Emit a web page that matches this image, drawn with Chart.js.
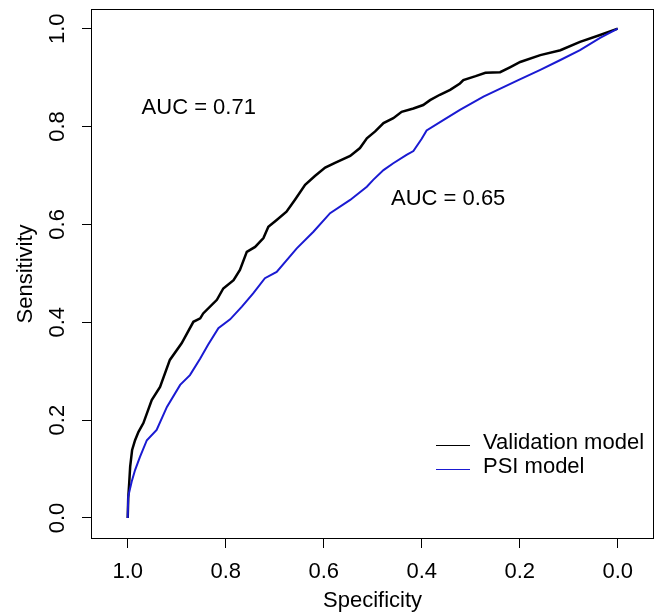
<!DOCTYPE html>
<html>
<head>
<meta charset="utf-8">
<script src="https://cdn.jsdelivr.net/npm/chart.js@4.4.1/dist/chart.umd.min.js"></script>
<style>
  body { margin: 0; background: #fff; }
</style>
</head>
<body>
<canvas id="rocChart" width="661" height="616"></canvas>
<script>
// ROC curves (specificity, sensitivity)
let specValidation = [1.0, 0.999, 0.997, 0.995, 0.991, 0.985, 0.978, 0.968, 0.951, 0.934, 0.914, 0.890, 0.866, 0.852, 0.846, 0.818, 0.805, 0.784, 0.771, 0.757, 0.740, 0.723, 0.713, 0.696, 0.676, 0.659, 0.638, 0.618, 0.597, 0.577, 0.546, 0.526, 0.512, 0.495, 0.478, 0.458, 0.441, 0.417, 0.397, 0.383, 0.363, 0.342, 0.322, 0.315, 0.290, 0.270, 0.240, 0.220, 0.199, 0.158, 0.117, 0.077, 0.036, 0.0];
let sensValidation = [0.0, 0.040, 0.071, 0.105, 0.139, 0.159, 0.176, 0.194, 0.241, 0.268, 0.323, 0.357, 0.401, 0.408, 0.418, 0.446, 0.469, 0.486, 0.507, 0.544, 0.554, 0.572, 0.595, 0.609, 0.626, 0.650, 0.681, 0.699, 0.716, 0.726, 0.740, 0.756, 0.776, 0.790, 0.807, 0.817, 0.830, 0.837, 0.844, 0.854, 0.865, 0.875, 0.888, 0.895, 0.903, 0.910, 0.911, 0.921, 0.932, 0.946, 0.956, 0.973, 0.987, 1.0];

let specPsi = [1.0, 0.999, 0.992, 0.985, 0.975, 0.961, 0.941, 0.920, 0.893, 0.873, 0.852, 0.836, 0.815, 0.791, 0.767, 0.744, 0.720, 0.696, 0.655, 0.621, 0.587, 0.546, 0.512, 0.499, 0.478, 0.458, 0.431, 0.417, 0.400, 0.390, 0.356, 0.322, 0.274, 0.203, 0.158, 0.117, 0.077, 0.036, 0.0];
let sensPsi = [0.0, 0.044, 0.074, 0.098, 0.125, 0.159, 0.180, 0.227, 0.272, 0.292, 0.326, 0.354, 0.388, 0.406, 0.432, 0.459, 0.490, 0.503, 0.551, 0.585, 0.623, 0.650, 0.677, 0.691, 0.711, 0.725, 0.742, 0.750, 0.775, 0.792, 0.813, 0.834, 0.861, 0.895, 0.916, 0.936, 0.956, 0.981, 1.0];

let tickVals = [0.0, 0.2, 0.4, 0.6, 0.8, 1.0];
let seriesLabels = ["Validation model", "PSI model"];
let seriesColors = ["#000000", "#1a1ad2"];
let aucLabels = ["AUC = 0.71", "AUC = 0.65"];
let aucSpec = [0.855, 0.346];
let aucSens = [0.839, 0.653];

const fontFamily = '"Liberation Sans", Arial, Helvetica, sans-serif';
Chart.defaults.font.family = fontFamily;
Chart.defaults.color = '#000';

function toPoints(xs, ys) {
    return xs.map(function (v, i) {
        return {x: v, y: ys[i]};
    });
}

//Box round the plot, AUC notes and the legend, like base R graphics
const rocExtras = {
    id: 'rocExtras',
    afterDraw(chart) {
        const {ctx, chartArea: a, scales: {x, y}} = chart;
        ctx.save();
        ctx.strokeStyle = '#000';
        ctx.lineWidth = 1;
        ctx.strokeRect(a.left - 0.5, a.top - 0.5, a.right - a.left + 1, a.bottom - a.top + 1);

        ctx.fillStyle = '#000';
        ctx.font = '22px ' + fontFamily;
        ctx.textAlign = 'center';
        ctx.textBaseline = 'middle';
        for (let i = 0; i < aucLabels.length; i++) {
            ctx.fillText(aucLabels[i], x.getPixelForValue(aucSpec[i]), y.getPixelForValue(aucSens[i]));
        }

        ctx.font = '22px ' + fontFamily;
        ctx.textAlign = 'left';
        let lx = a.right - 217, ly = a.bottom - 93;
        for (let i = 0; i < seriesLabels.length; i++) {
            let yy = ly + i * 24;
            ctx.strokeStyle = seriesColors[i];
            ctx.lineWidth = 1;
            ctx.beginPath();
            ctx.moveTo(lx, yy + 0.5);
            ctx.lineTo(lx + 34, yy + 0.5);
            ctx.stroke();
            ctx.fillText(seriesLabels[i], lx + 47, yy - 2);
        }
        ctx.restore();
    }
};

const axisTicks = function (scale) {
    scale.ticks = tickVals.map(function (v) { return {value: v}; });
};

new Chart(document.getElementById('rocChart').getContext('2d'), {
    type: 'scatter',
    data: {
        datasets: [
            {
                label: seriesLabels[0],
                data: toPoints(specValidation, sensValidation),
                showLine: true,
                borderColor: seriesColors[0],
                borderWidth: 2.5,
                pointRadius: 0,
                tension: 0,
                order: 2
            },
            {
                label: seriesLabels[1],
                data: toPoints(specPsi, sensPsi),
                showLine: true,
                borderColor: seriesColors[1],
                borderWidth: 2,
                pointRadius: 0,
                tension: 0,
                order: 1
            }
        ]
    },
    options: {
        responsive: false,
        animation: false,
        layout: {padding: {top: 10, right: 8, left: 0, bottom: 0}},
        plugins: {
            legend: {display: false},
            tooltip: {enabled: false}
        },
        scales: {
            x: {
                type: 'linear',
                reverse: true,
                min: -0.072,
                max: 1.0729,
                afterBuildTicks: axisTicks,
                afterFit: function (scale) {
                    scale.height = 78;
                    scale.paddingLeft = 0;
                    scale.paddingRight = 0;
                },
                ticks: {
                    autoSkip: false,
                    maxRotation: 0,
                    padding: 11,
                    font: {size: 22},
                    color: '#000',
                    callback: function (v) { return v.toFixed(1); }
                },
                grid: {drawOnChartArea: false, tickLength: 10, tickColor: '#000', tickWidth: 1},
                border: {display: false},
                title: {display: true, text: 'Specificity', font: {size: 22}, color: '#000', padding: {top: 0, bottom: 2}}
            },
            y: {
                type: 'linear',
                min: -0.0409,
                max: 1.0382,
                afterBuildTicks: axisTicks,
                afterFit: function (scale) {
                    scale.width = 92;
                    scale.paddingTop = 0;
                    scale.paddingBottom = 0;
                },
                ticks: {
                    autoSkip: false,
                    minRotation: 90,
                    maxRotation: 90,
                    crossAlign: 'center',
                    padding: 9,
                    font: {size: 22},
                    color: '#000',
                    callback: function (v) { return v.toFixed(1); }
                },
                grid: {drawOnChartArea: false, tickLength: 10, tickColor: '#000', tickWidth: 1},
                border: {display: false},
                title: {display: true, text: 'Sensitivity', font: {size: 22}, color: '#000', padding: {top: 13, bottom: 0}}
            }
        }
    },
    plugins: [rocExtras]
});
</script>
</body>
</html>
